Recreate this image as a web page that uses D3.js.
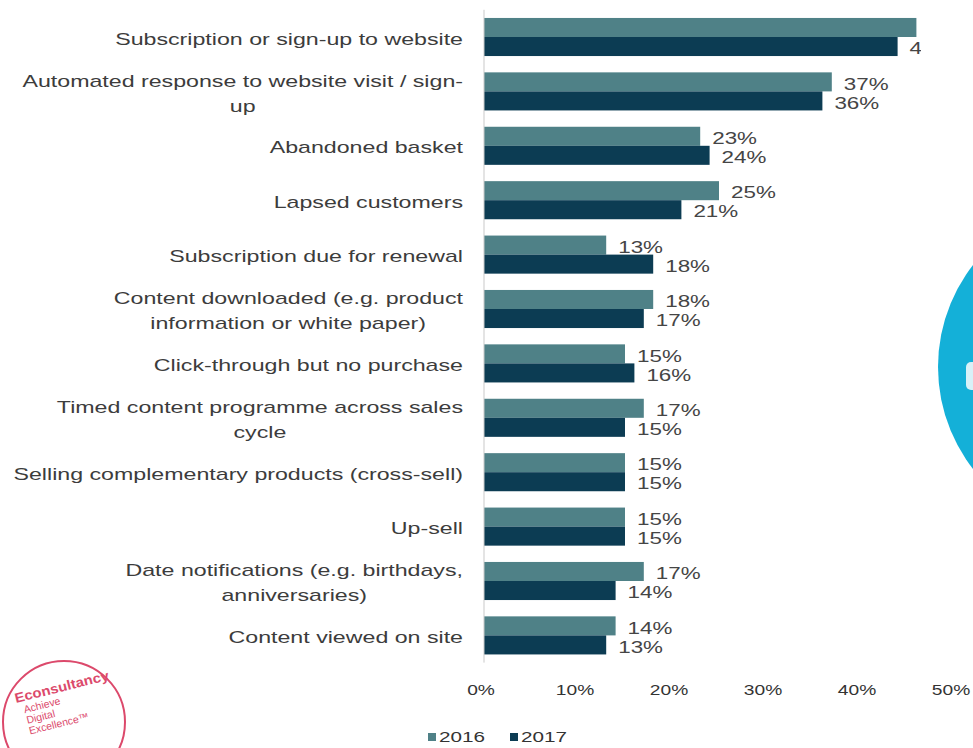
<!DOCTYPE html>
<html>
<head>
<meta charset="utf-8">
<script src="https://cdn.jsdelivr.net/npm/d3@7"></script>
<style>
  html, body { margin: 0; padding: 0; background: #ffffff; }
  svg { display: block; font-family: Arial, "Liberation Sans", sans-serif; }
</style>
</head>
<body>
<svg id="chart" width="973" height="748"></svg>
<script>
// Triggers used for automated e-mail campaigns, share of respondents
const categories = [
  "Subscription or sign-up to website",
  "Automated response to website visit / sign-\nup",
  "Abandoned basket",
  "Lapsed customers",
  "Subscription due for renewal",
  "Content downloaded (e.g. product\ninformation or white paper)",
  "Click-through but no purchase",
  "Timed content programme across sales\ncycle",
  "Selling complementary products (cross-sell)",
  "Up-sell",
  "Date notifications (e.g. birthdays,\nanniversaries)",
  "Content viewed on site"
];
const years = ["2016", "2017"];
const values2016 = [46, 37, 23, 25, 13, 18, 15, 17, 15, 15, 17, 14];
const values2017 = [44, 36, 24, 21, 18, 17, 16, 15, 15, 15, 14, 13];
const xTicks = [0, 10, 20, 30, 40, 50];
const logoLines = ["Achieve", "Digital", "Excellence\u2122"];

const colors = { "2016": "#4f8187", "2017": "#0c3c53" };
const textColor = "#3c3c3c";
const stretch = 1.45;   // wide lettering

const svg = d3.select("#chart");

const x = d3.scaleLinear().domain([0, 50]).range([484, 954]);
const y = d3.scaleBand()
  .domain(categories)
  .range([9.8, 662.6])
  .paddingInner(0.3)
  .paddingOuter(0.15);
const ySub = d3.scaleBand().domain(years).range([0, y.bandwidth()]);

const rows = categories.map((c, i) => ({
  cat: c,
  vals: [
    { year: "2016", v: values2016[i] },
    { year: "2017", v: values2017[i] }
  ]
}));

// plot area is cut at the right edge
svg.append("defs").append("clipPath").attr("id", "plotClip")
  .append("rect").attr("x", 0).attr("y", 0).attr("width", 921).attr("height", 670);

const plot = svg.append("g").attr("clip-path", "url(#plotClip)");

// bars
const groups = plot.selectAll("g.row").data(rows).join("g")
  .attr("class", "row")
  .attr("transform", d => `translate(0,${y(d.cat)})`);

groups.selectAll("rect").data(d => d.vals).join("rect")
  .attr("x", x(0))
  .attr("y", d => ySub(d.year))
  .attr("width", d => x(d.v) - x(0))
  .attr("height", ySub.bandwidth())
  .attr("fill", d => colors[d.year]);

// value labels
groups.selectAll("text.val").data(d => d.vals).join("text")
  .attr("class", "val")
  .attr("transform", d => `translate(${x(d.v) + 12},${ySub(d.year) + ySub.bandwidth() / 2 + 2}) scale(1.4,1)`)
  .attr("dominant-baseline", "central")
  .attr("font-size", 16)
  .attr("fill", "#454545")
  .text(d => d.v + "%");

// vertical category axis line
svg.append("line")
  .attr("x1", x(0)).attr("x2", x(0))
  .attr("y1", y.range()[0]).attr("y2", y.range()[1])
  .attr("stroke", "#c9c9c9").attr("stroke-width", 1);

// category labels: right-aligned, wrapped lines centred under the first
const lineGap = 25;
const labelRight = 463;
svg.selectAll("g.cat").data(categories).join("g")
  .attr("class", "cat")
  .each(function (c) {
    const lines = c.split("\n");
    const cy = y(c) + y.bandwidth() / 2;
    const g = d3.select(this);
    let centre = labelRight;
    lines.forEach((ln, k) => {
      const ly = cy + (k - (lines.length - 1) / 2) * lineGap + 2;
      const t = g.append("text")
        .attr("dominant-baseline", "central")
        .attr("font-size", 16)
        .attr("fill", textColor)
        .text(ln);
      if (k === 0) {
        t.attr("text-anchor", "end")
          .attr("transform", `translate(${labelRight},${ly}) scale(${stretch},1)`);
        centre = labelRight - t.node().getBBox().width * stretch / 2;
      } else {
        t.attr("text-anchor", "middle")
          .attr("transform", `translate(${centre},${ly}) scale(${stretch},1)`);
      }
    });
  });

// x axis tick labels
svg.selectAll("text.tick").data(xTicks).join("text")
  .attr("class", "tick")
  .attr("transform", d => `translate(${x(d) - 3},690) scale(1.28,1)`)
  .attr("text-anchor", "middle")
  .attr("dominant-baseline", "central")
  .attr("font-size", 15)
  .attr("fill", "#333")
  .text(d => d + "%");

// legend
const legend = svg.append("g").attr("transform", "translate(428,737)");
const legendItems = legend.selectAll("g").data(years).join("g")
  .attr("transform", (d, i) => `translate(${i * 82},0)`);
legendItems.append("rect")
  .attr("x", 0).attr("y", -4).attr("width", 8).attr("height", 8)
  .attr("fill", d => colors[d]);
legendItems.append("text")
  .attr("transform", `translate(11,0) scale(1.38,1)`)
  .attr("dominant-baseline", "central")
  .attr("font-size", 15)
  .attr("fill", "#333")
  .text(d => d);

// round stamp in the lower-left corner
const stamp = svg.append("g").attr("opacity", 0.85);
stamp.append("circle")
  .attr("cx", 64).attr("cy", 722).attr("r", 61)
  .attr("fill", "none").attr("stroke", "#d62a52").attr("stroke-width", 2);
const stampText = stamp.append("g").attr("transform", "translate(16,703) rotate(-14)");
stampText.append("text")
  .attr("transform", "scale(1.1,1)")
  .attr("font-size", 13.5).attr("font-weight", "bold")
  .attr("fill", "#d62a52")
  .text("Econsultancy");
stampText.selectAll("text.sub").data(logoLines).join("text")
  .attr("class", "sub")
  .attr("x", 6).attr("y", (d, i) => 12 + i * 11)
  .attr("font-size", 10.5)
  .attr("fill", "#d62a52")
  .text(d => d);

// cyan disc at the right edge
svg.append("circle")
  .attr("cx", 1104).attr("cy", 367).attr("r", 166)
  .attr("fill", "#14b0d8");
svg.append("rect")
  .attr("x", 966).attr("y", 362).attr("width", 12).attr("height", 28).attr("rx", 5)
  .attr("fill", "#d8f1f8");
</script>
</body>
</html>
